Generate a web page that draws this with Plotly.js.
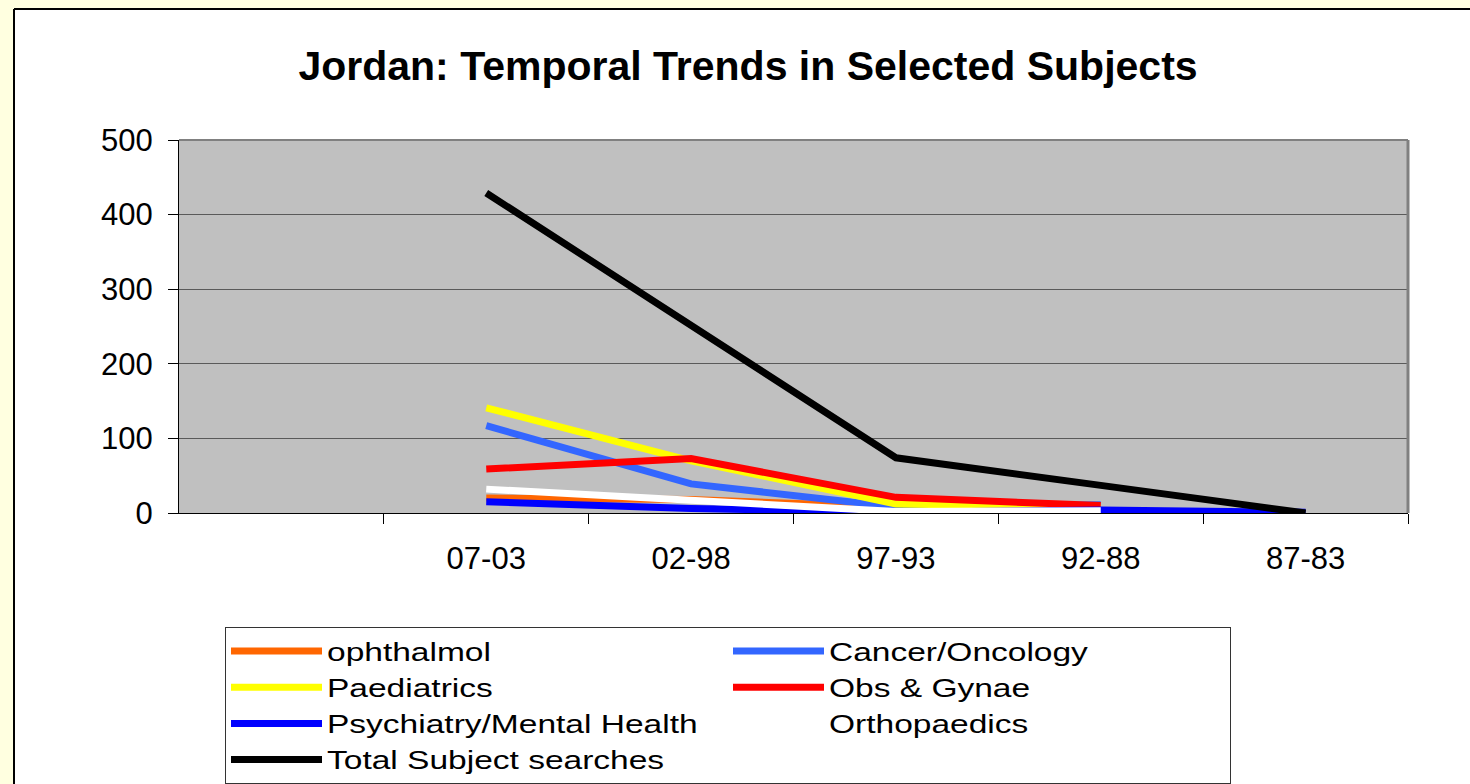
<!DOCTYPE html>
<html>
<head>
<meta charset="utf-8">
<script src="https://cdn.plot.ly/plotly-3.0.1.min.js"></script>
<style>
html,body{margin:0;padding:0;background:#fff;}
#chart{width:1470px;height:784px;}
#chart .legendtext{transform:scaleX(1.315);transform-box:fill-box;transform-origin:0 50%;}
</style>
</head>
<body>
<div id="chart"></div>
<script>
const categories = ['07-03', '02-98', '97-93', '92-88', '87-83'];
const ophthalmol = [20, 18, 8, 2, null];
const cancer = [117, 39, 8, 11, null];
const paediatrics = [141, 70, 12, 8, null];
const obsGynae = [59, 73, 21, 10, null];
const psychiatry = [15, 6, 1, 4, 1];
const orthopaedics = [32, 16, 2, 3, null];
const total = [429, 252, 74, 37, 0];

const seriesNames = ['ophthalmol', 'Cancer/Oncology', 'Paediatrics', 'Obs & Gynae',
  'Psychiatry/Mental Health', 'Orthopaedics', 'Total Subject searches'];
const seriesValues = [ophthalmol, cancer, paediatrics, obsGynae, psychiatry, orthopaedics, total];
const seriesColors = ['#FF6600', '#3366FF', '#FFFF00', '#FF0000', '#0000FF', '#FFFFFF', '#000000'];

const traces = seriesNames.map((n, i) => ({
  type: 'scatter', mode: 'lines', name: n,
  x: categories, y: seriesValues[i],
  line: {color: seriesColors[i], width: 7},
  connectgaps: false
}));

const W = 1470, H = 784;
const m = {l: 179, r: 62, t: 140, b: 271, autoexpand: false};
const pw = W - m.l - m.r, ph = H - m.t - m.b;
const px = v => (v - m.l) / pw;
const py = v => (H - m.b - v) / ph;

const layout = {
  width: W, height: H,
  margin: m,
  paper_bgcolor: '#FFFFFF',
  plot_bgcolor: '#C0C0C0',
  font: {family: 'Liberation Sans, Arial, sans-serif', color: '#000'},
  title: {
    text: '<b>Jordan: Temporal Trends in Selected Subjects</b>',
    font: {size: 41, family: 'Liberation Sans, Arial, sans-serif', color: '#000'},
    xref: 'container', x: 748 / W, xanchor: 'center',
    yref: 'container', y: 1 - 66 / H, yanchor: 'middle'
  },
  xaxis: {
    type: 'category',
    range: [-1.5, 4.5],
    tickson: 'boundaries',
    ticks: 'outside', ticklen: 10, tickcolor: '#000', tickwidth: 1,
    showline: true, linecolor: '#000', linewidth: 1,
    showgrid: false, zeroline: false,
    tickfont: {size: 31},
    ticklabelstandoff: 18,
    fixedrange: true
  },
  yaxis: {
    range: [0, 500], dtick: 100,
    ticks: 'outside', ticklen: 10, tickcolor: '#000', tickwidth: 1,
    showline: true, linecolor: '#000', linewidth: 1,
    showgrid: true, gridcolor: '#5A5A5A', gridwidth: 1,
    zeroline: false,
    tickfont: {size: 31},
    ticklabelstandoff: 9,
    fixedrange: true
  },
  showlegend: true,
  legend: {
    orientation: 'h',
    x: px(225), xanchor: 'left',
    y: py(627), yanchor: 'top',
    bgcolor: '#FFFFFF', bordercolor: '#333', borderwidth: 1,
    font: {size: 25.5, family: 'Liberation Sans, Arial, sans-serif', color: '#000'},
    itemwidth: 91,
    entrywidth: 396, entrywidthmode: 'pixels',
    traceorder: 'normal'
  },
  shapes: [
    {type: 'rect', xref: 'paper', yref: 'paper', x0: px(0), x1: px(W + 20), y0: py(0), y1: py(9), fillcolor: '#FFFFE0', line: {width: 0}, layer: 'above'},
    {type: 'rect', xref: 'paper', yref: 'paper', x0: px(0), x1: px(14), y0: py(0), y1: py(H + 20), fillcolor: '#FFFFE0', line: {width: 0}, layer: 'above'},
    {type: 'line', xref: 'paper', yref: 'paper', x0: px(14), x1: px(W + 20), y0: py(9), y1: py(9), line: {color: '#000', width: 2}, layer: 'above'},
    {type: 'line', xref: 'paper', yref: 'paper', x0: px(14), x1: px(14), y0: py(9), y1: py(H + 20), line: {color: '#000', width: 2}, layer: 'above'},
    {type: 'line', xref: 'paper', yref: 'paper', x0: 0, x1: 1, y0: 1, y1: 1, line: {color: '#808080', width: 2}, layer: 'above'},
    {type: 'line', xref: 'paper', yref: 'paper', x0: 1, x1: 1, y0: 0, y1: 1, line: {color: '#808080', width: 3}, layer: 'above'}
  ]
};

Plotly.newPlot('chart', traces, layout, {displayModeBar: false, staticPlot: true});
</script>
</body>
</html>
